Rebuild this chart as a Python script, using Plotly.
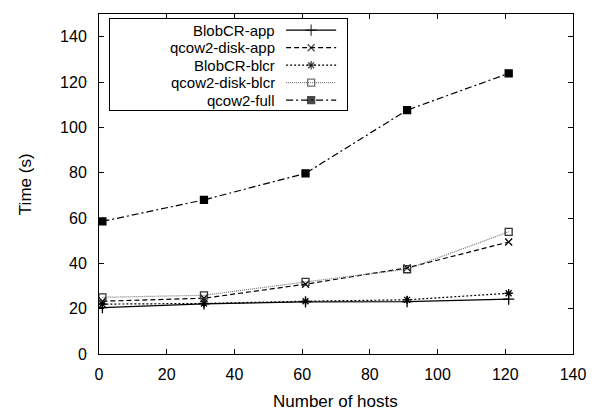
import plotly.graph_objects as go

hosts = [1, 31, 61, 91, 121]
blobcr_app = [20.5, 22.1, 23.0, 23.1, 24.2]
qcow2_disk_app = [23.3, 24.6, 30.8, 38.0, 49.4]
blobcr_blcr = [22.0, 22.3, 23.3, 23.9, 26.8]
qcow2_disk_blcr = [25.0, 25.9, 31.8, 37.4, 53.9]
qcow2_full = [58.5, 68.0, 79.7, 107.6, 123.8]
series_names = ["BlobCR-app", "qcow2-disk-app", "BlobCR-blcr", "qcow2-disk-blcr", "qcow2-full"]
x_ticks = [0, 20, 40, 60, 80, 100, 120, 140]
y_ticks = [0, 20, 40, 60, 80, 100, 120, 140]

styles = [
    dict(dash="solid", sym="cross-thin", size=8, lc="black", mc="black"),
    dict(dash="5px,3px", sym="x-thin", size=7, lc="black", mc="black"),
    dict(dash="2px,2px", sym="asterisk", size=7, lc="black", mc="black"),
    dict(dash="1px,1px", sym="square-open", size=7, lc="#777777", mc="#333333"),
    dict(dash="7px,3px,2px,3px", sym="square", size=7, lc="black", mc="black"),
]
values = [blobcr_app, qcow2_disk_app, blobcr_blcr, qcow2_disk_blcr, qcow2_full]

# page body has an 8px margin; the figure is sized to fit the window exactly
OFF = 8
W, H = 607 - OFF, 413 - OFF
# plot area in window pixels
PL, PR, PT, PB = 99, 572.7, 14.3, 354.3
ML, MT = PL - OFF, PT - OFF
PW, PH = PR - PL, PB - PT
MR, MB = W - ML - PW, H - MT - PH

fig = go.Figure()
for name, vals, st in zip(series_names, values, styles):
    fig.add_trace(go.Scatter(
        x=hosts, y=vals, name=name, mode="lines+markers", showlegend=False,
        line=dict(color=st["lc"], width=1.2, dash=st["dash"]),
        marker=dict(symbol=st["sym"], size=st["size"], color=st["mc"],
                    line=dict(color=st["mc"], width=1.3)),
    ))

# custom legend (text left, sample right) drawn in an inset axis measured in window pixels
LEG_L, LEG_R, LEG_T, LEG_B = 110, 347, 19.3, 110.7
ROW0, ROW_H = 30.5, 17.5
SAMPLE_X = [286, 311, 336]
TEXT_X = 276

annotations = []
for i, (name, st) in enumerate(zip(series_names, styles)):
    yrow = ROW0 + i * ROW_H
    fig.add_trace(go.Scatter(
        x=SAMPLE_X, y=[yrow] * 3, mode="lines+markers", showlegend=False,
        xaxis="x2", yaxis="y2", hoverinfo="skip",
        line=dict(color=st["lc"], width=1.2, dash=st["dash"]),
        marker=dict(symbol=st["sym"], size=[0, st["size"], 0], color=st["mc"],
                    line=dict(color=st["mc"], width=1.3)),
    ))
    annotations.append(dict(
        text=name, x=TEXT_X, y=yrow, xref="x2", yref="y2",
        xanchor="right", yanchor="middle", showarrow=False,
        font=dict(size=15), height=17, borderpad=0,
    ))

font = "Liberation Sans, Arial, Helvetica, sans-serif"
annotations.append(dict(text="Number of hosts", x=(335.5 - PL) / PW, y=(PB - 401.5) / PH,
                        xref="paper", yref="paper",
                        xanchor="center", yanchor="middle", showarrow=False,
                        font=dict(size=17)))
annotations.append(dict(text="Time (s)", x=(25 - PL) / PW, y=(PB - 184.5) / PH,
                        xref="paper", yref="paper",
                        xanchor="center", yanchor="middle", showarrow=False, textangle=-90,
                        font=dict(size=17)))

axis_common = dict(ticks="inside", ticklen=5, tickcolor="black", mirror="allticks",
                   showline=True, linecolor="black", linewidth=1, showgrid=False,
                   zeroline=False, automargin=False)

fig.update_layout(
    width=W, height=H,
    margin=dict(l=ML, r=MR, t=MT, b=MB, pad=0),
    plot_bgcolor="white", paper_bgcolor="white",
    font=dict(family=font, size=16, color="black"),
    showlegend=False,
    xaxis=dict(range=[0, 140], tickvals=x_ticks, ticklabelstandoff=6, **axis_common),
    yaxis=dict(range=[0, 150], tickvals=y_ticks, ticklabelstandoff=8, **axis_common),
    xaxis2=dict(domain=[(LEG_L - PL) / PW, (LEG_R - PL) / PW], range=[LEG_L, LEG_R],
                anchor="y2", showline=True, mirror=True, linecolor="black", linewidth=1,
                showticklabels=False, ticks="", showgrid=False, zeroline=False,
                fixedrange=True, automargin=False),
    yaxis2=dict(domain=[(PB - LEG_B) / PH, (PB - LEG_T) / PH], range=[LEG_B, LEG_T],
                anchor="x2", showline=True, mirror=True, linecolor="black", linewidth=1,
                showticklabels=False, ticks="", showgrid=False, zeroline=False,
                fixedrange=True, automargin=False),
    annotations=annotations,
)

fig.write_html("out.html")
